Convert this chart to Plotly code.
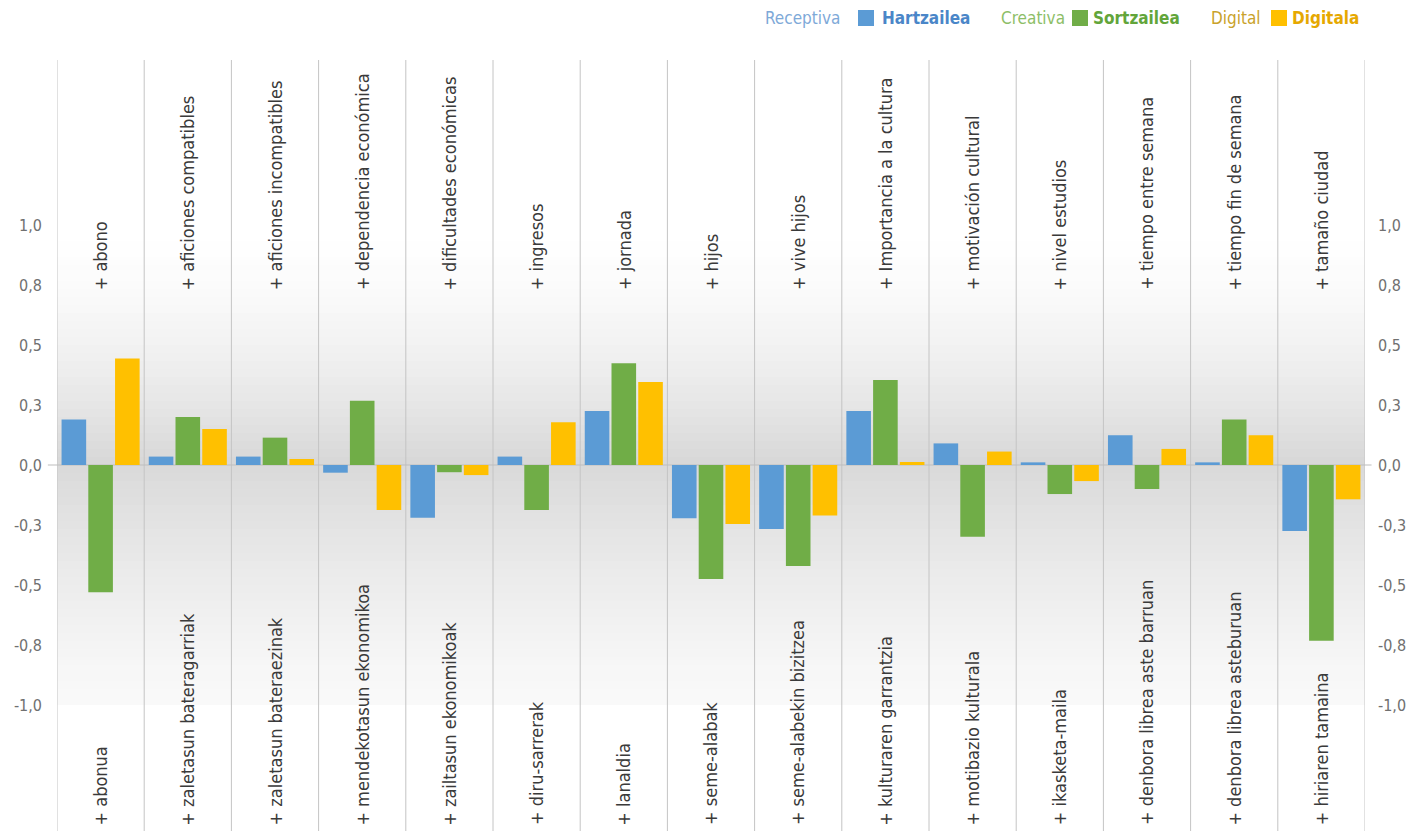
import plotly.graph_objects as go

categories_es = ["+ abono", "+ aficiones compatibles", "+ aficiones incompatibles",
                 "+ dependencia económica", "+ dificultades económicas", "+ ingresos",
                 "+ jornada", "+ hijos", "+ vive hijos", "+ Importancia a la cultura",
                 "+ motivación cultural", "+ nivel estudios", "+ tiempo entre semana",
                 "+ tiempo fin de semana", "+ tamaño ciudad"]
categories_eu = ["+ abonua", "+ zaletasun bateragarriak", "+ zaletasun bateraezinak",
                 "+ mendekotasun ekonomikoa", "+ zailtasun ekonomikoak", "+ diru-sarrerak",
                 "+ lanaldia", "+ seme-alabak", "+ seme-alabekin bizitzea",
                 "+ kulturaren garrantzia", "+ motibazio kulturala", "+ ikasketa-maila",
                 "+ denbora librea aste barruan", "+ denbora librea asteburuan",
                 "+ hiriaren tamaina"]

receptiva = [0.19, 0.035, 0.035, -0.032, -0.22, 0.035, 0.225, -0.222, -0.267, 0.225,
             0.09, 0.011, 0.124, 0.011, -0.275]
creativa = [-0.53, 0.20, 0.114, 0.268, -0.03, -0.1875, 0.424, -0.475, -0.421, 0.354,
            -0.299, -0.121, -0.10, 0.19, -0.732]
digital = [0.444, 0.15, 0.025, -0.1875, -0.042, 0.178, 0.346, -0.246, -0.21, 0.0125,
           0.056, -0.067, 0.067, 0.124, -0.143]

tick_vals = [1.0, 0.75, 0.5, 0.25, 0.0, -0.25, -0.5, -0.75, -1.0]
tick_text = ["1,0", "0,8", "0,5", "0,3", "0,0", "-0,3", "-0,5", "-0,8", "-1,0"]

series_names = ["Hartzailea", "Sortzailea", "Digitala"]
series_es = ["Receptiva", "Creativa", "Digital"]
colors = ["#5B9BD5", "#70AD47", "#FFC000"]

Y_MIN, Y_MAX = -1.525, 1.6875
FONT = "Liberation Sans Narrow, DejaVu Sans Condensed, sans-serif"

W, H = 1411, 831
ML, MR, MT, MB = 57, 46, 60, 0
PW, PH = W - ML - MR, H - MT - MB

x_idx = list(range(len(categories_es)))

fig = go.Figure()
for vals, name, col in zip([receptiva, creativa, digital], series_names, colors):
    fig.add_trace(go.Bar(x=x_idx, y=vals, name=name, marker_color=col,
                         marker_line_width=0, showlegend=False))
fig.add_trace(go.Scatter(x=[0], y=[0], yaxis="y2", mode="markers",
                         marker_opacity=0, showlegend=False, hoverinfo="skip"))

shapes = []
def grey_at(v):
    if v >= 0:
        t = max(0.0, min(1.0, v / 1.0))
        return 255 - (1 - t) ** 1.6 * 40
    t = max(0.0, min(1.0, -v / 1.0))
    return 255 - (1 - t) ** 1.3 * 38 - 6 * t

n = 60
for k in range(n):
    v0 = -1.0 + 2.0 * k / n
    v1 = -1.0 + 2.0 * (k + 1) / n
    g = int(round(grey_at((v0 + v1) / 2)))
    shapes.append(dict(type="rect", xref="paper", yref="y", x0=0, x1=1, y0=v0, y1=v1,
                       fillcolor=f"rgb({g},{g},{g})", line_width=0, layer="below"))
for i in range(len(categories_es) + 1):
    shapes.append(dict(type="line", xref="x", yref="paper", x0=i - 0.5, x1=i - 0.5,
                       y0=0, y1=1, line=dict(color="#c4c4c4", width=1), layer="below"))
shapes.append(dict(type="line", xref="paper", yref="y", x0=-0.007, x1=1.005, y0=0, y1=0,
                   line=dict(color="#bdbdbd", width=1.2), layer="below"))

annotations = []
for i, (es, eu) in enumerate(zip(categories_es, categories_eu)):
    annotations.append(dict(x=i, y=0.72, xref="x", yref="y", text=es, textangle=-90,
                            showarrow=False, xanchor="center", yanchor="bottom",
                            font=dict(family=FONT, size=18, color="#3a3a3a")))
    annotations.append(dict(x=i, y=-1.51, xref="x", yref="y", text=eu, textangle=-90,
                            showarrow=False, xanchor="center", yanchor="bottom",
                            font=dict(family=FONT, size=18, color="#3a3a3a")))

def px_x(px):
    return (px - ML) / PW

def px_y(py):
    return 1 - (py - MT) / PH

legend_items = [
    (842, 858, 880, "Receptiva", "#7EA9D8", "Hartzailea", "#4A86C8", colors[0]),
    (1067, 1072, 1091, "Creativa", "#8DBE67", "Sortzailea", "#62A53A", colors[1]),
    (1263, 1271, 1290, "Digital", "#C9A22A", "Digitala", "#E6A800", colors[2]),
]
for x_es_right, sq_left, x_eu_left, es, ces, eu, ceu, col in legend_items:
    annotations.append(dict(x=px_x(x_es_right), y=px_y(18), xref="paper", yref="paper",
                            text=es, showarrow=False, xanchor="right", yanchor="middle",
                            font=dict(family=FONT, size=17, color=ces)))
    annotations.append(dict(x=px_x(x_eu_left), y=px_y(18), xref="paper", yref="paper",
                            text=f"<b>{eu}</b>", showarrow=False, xanchor="left",
                            yanchor="middle", font=dict(family=FONT, size=17, color=ceu)))
    shapes.append(dict(type="rect", xref="paper", yref="paper",
                       x0=px_x(sq_left), x1=px_x(sq_left + 16),
                       y0=px_y(26), y1=px_y(10), fillcolor=col, line_width=0))

axis_common = dict(range=[Y_MIN, Y_MAX], tickvals=tick_vals, ticktext=tick_text,
                   showgrid=False, zeroline=False, showline=False, ticks="",
                   automargin=False,
                   tickfont=dict(family=FONT, size=16, color="#707070"))

fig.update_layout(
    width=W, height=H,
    margin=dict(l=ML, r=MR, t=MT, b=MB, autoexpand=False),
    paper_bgcolor="white", plot_bgcolor="white",
    barmode="group", bargap=0.08, bargroupgap=0.08,
    xaxis=dict(range=[-0.5, len(categories_es) - 0.5], showticklabels=False,
               showgrid=False, zeroline=False, showline=False, ticks="",
               automargin=False),
    yaxis=dict(**axis_common, ticklabelstandoff=14),
    yaxis2=dict(**axis_common, overlaying="y", side="right", ticklabelstandoff=12),
    shapes=shapes, annotations=annotations,
)

fig.write_html("out.html", config={"displayModeBar": False},
               post_script="document.body.style.margin='0';document.body.style.overflow='hidden';")
